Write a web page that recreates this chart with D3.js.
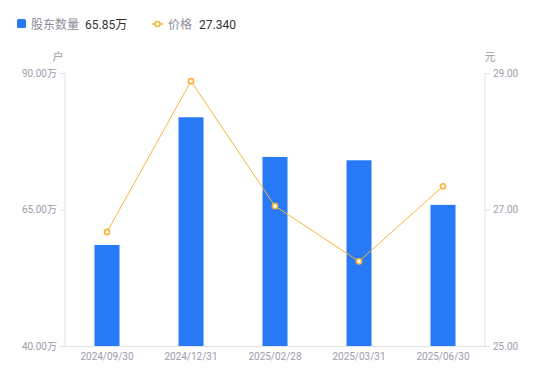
<!DOCTYPE html>
<html><head><meta charset="utf-8">
<script src="https://cdn.jsdelivr.net/npm/d3@7"></script>
<style>body{margin:0;background:#fff;font-family:"Noto Sans CJK SC","Noto Sans",sans-serif;}</style>
</head><body><svg id="c" width="550" height="381"></svg>
<script>
const categories = ["2024/09/30","2024/12/31","2025/02/28","2025/03/31","2025/06/30"];
const holders = [58.50, 81.89, 74.62, 74.01, 65.85];
const prices = [26.67, 28.88, 27.05, 26.24, 27.34];
const leftTicks = [40, 65, 90];
const rightTicks = [25, 27, 29];

const svg = d3.select("#c");
const m = {l:65, r:485, t:73, b:346};
const x = d3.scaleBand().domain(categories).range([m.l, m.r]);
const yL = d3.scaleLinear().domain([40, 90]).range([m.b, m.t]);
const yR = d3.scaleLinear().domain([25, 29]).range([m.b, m.t]);
const axisCol = "#e3e3e6", labCol = "#9c9cab";

// left axis
const gl = svg.append("g").attr("transform", `translate(${m.l},0)`)
  .call(d3.axisLeft(yL).tickValues(leftTicks).tickSize(5).tickPadding(3).tickFormat(d => d.toFixed(2) + "万"));
gl.select(".domain").attr("stroke", axisCol).attr("d", `M0,${m.t}V${m.b}`);
gl.selectAll(".tick line").attr("stroke", axisCol);
gl.selectAll(".tick text").attr("fill", labCol).style("font-size", "10px").style("font-family", "Roboto, 'Noto Sans CJK SC', sans-serif");

// right axis
const gr = svg.append("g").attr("transform", `translate(${m.r},0)`)
  .call(d3.axisRight(yR).tickValues(rightTicks).tickSize(5).tickPadding(3).tickFormat(d => d.toFixed(2)));
gr.select(".domain").attr("stroke", axisCol).attr("d", `M0,${m.t}V${m.b}`);
gr.selectAll(".tick line").attr("stroke", axisCol);
gr.selectAll(".tick text").attr("fill", labCol).style("font-size", "10px").style("font-family", "Roboto, sans-serif");

// bottom axis
const gb = svg.append("g").attr("transform", `translate(0,${m.b})`)
  .call(d3.axisBottom(x).tickSize(0).tickPadding(7));
gb.select(".domain").attr("stroke", axisCol);
gb.selectAll(".tick text").attr("fill", labCol).style("font-size", "10px").style("font-family", "Roboto, sans-serif");

// unit labels
svg.append("text").attr("x", 58).attr("y", 61).attr("text-anchor", "middle").attr("fill", labCol).style("font-size", "11px").text("户");
svg.append("text").attr("x", 490).attr("y", 61).attr("text-anchor", "middle").attr("fill", labCol).style("font-size", "11px").text("元");

// bars
const bw = 25;
svg.append("g").selectAll("rect").data(holders).join("rect")
  .attr("x", (d,i) => x(categories[i]) + x.bandwidth()/2 - bw/2)
  .attr("y", d => yL(d))
  .attr("width", bw)
  .attr("height", d => m.b - yL(d))
  .attr("fill", "#2779f5");

// line
const lineCol = "#fbb43b";
const line = d3.line().x((d,i) => x(categories[i]) + x.bandwidth()/2).y(d => yR(d));
svg.append("path").datum(prices).attr("d", line).attr("fill", "none").attr("stroke", lineCol).attr("stroke-width", 1);
svg.append("g").selectAll("circle").data(prices).join("circle")
  .attr("cx", (d,i) => x(categories[i]) + x.bandwidth()/2)
  .attr("cy", d => yR(d))
  .attr("r", 2.6).attr("fill", "#fff").attr("stroke", lineCol).attr("stroke-width", 1.6);

// legend
const lg = svg.append("g");
lg.append("rect").attr("x", 17).attr("y", 19).attr("width", 9).attr("height", 9).attr("rx", 1.5).attr("fill", "#2779f5");
lg.append("text").attr("x", 31).attr("y", 28.5).attr("fill", "#8c8c9a").style("font-size", "12px").text("股东数量");
lg.append("text").attr("x", 85).attr("y", 28.5).attr("fill", "#333").style("font-size", "12px").style("font-family","Roboto, 'Noto Sans CJK SC', sans-serif").text("65.85万");
lg.append("line").attr("x1", 152).attr("x2", 163).attr("y1", 24).attr("y2", 24).attr("stroke", lineCol).attr("stroke-width", 1.5);
lg.append("circle").attr("cx", 157.5).attr("cy", 24).attr("r", 2.5).attr("fill", "#fff").attr("stroke", lineCol).attr("stroke-width", 1.6);
lg.append("text").attr("x", 168).attr("y", 28.5).attr("fill", "#8c8c9a").style("font-size", "12px").text("价格");
lg.append("text").attr("x", 199).attr("y", 28.5).attr("fill", "#333").style("font-size", "12px").style("font-family","Roboto, sans-serif").text("27.340");
</script></body></html>
